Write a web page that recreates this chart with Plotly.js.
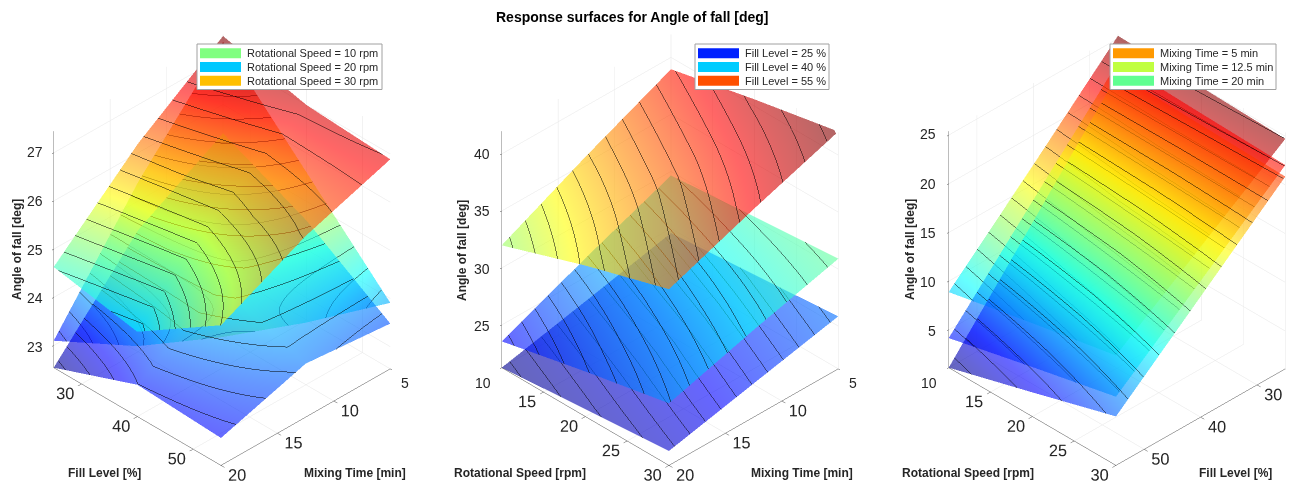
<!DOCTYPE html>
<html>
<head>
<meta charset="utf-8">
<script src="https://cdn.plot.ly/plotly-3.0.1.min.js"></script>
<style>
  html, body { margin: 0; padding: 0; background: #fff; }
  #chart { width: 1296px; height: 496px; }
</style>
</head>
<body>
<div id="chart"></div>
<script>
// grid points of the factors
const fillLevel = [25, 40, 55];
const mixingTime = [5, 12.5, 20];
const rotSpeed = [10, 20, 30];

// panel 1: rows = fill level, cols = mixing time
const angleRs10 = [
  [27.30, 25.40, 23.10],
  [25.60, 25.00, 24.00],
  [23.91, 24.50, 25.20]
];
const angleRs20 = [
  [25.40, 24.40, 22.54],
  [24.60, 24.26, 23.20],
  [23.48, 23.65, 23.11]
];
const angleRs30 = [
  [27.42, 26.20, 24.63],
  [27.00, 25.93, 24.30],
  [26.89, 26.30, 25.45]
];

// panel 2: rows = rotational speed, cols = mixing time
const angleFill25 = [
  [24.59, 22.90, 21.25],
  [25.20, 23.50, 21.90],
  [25.86, 24.20, 22.52]
];
const angleFill40 = [
  [29.64, 26.70, 23.56],
  [30.30, 27.80, 25.20],
  [30.91, 28.90, 26.70]
];
const angleFill55 = [
  [38.96, 35.60, 31.98],
  [40.60, 37.40, 34.50],
  [42.07, 39.50, 36.71]
];

// panel 3: rows = rotational speed, cols = fill level
const angleMix5 = [
  [25.28, 17.00, 8.88],
  [25.00, 18.00, 10.70],
  [24.73, 18.60, 12.40]
];
const angleMix12 = [
  [22.60, 13.40, 4.16],
  [22.30, 14.30, 6.20],
  [22.04, 15.10, 8.17]
];
const angleMix20 = [
  [21.40, 11.20, 1.12],
  [21.10, 12.20, 3.60],
  [20.86, 13.50, 6.15]
];

// axis ticks
const fillTicks = [30, 40, 50];
const mixTicks = [5, 10, 15, 20];
const speedTicks = [10, 15, 20, 25, 30];
const angleTicks1 = [23, 24, 25, 26, 27];
const angleTicks2 = [25, 30, 35, 40];
const angleTicks3 = [5, 10, 15, 20, 25];

const jet = [
  [0, 'rgb(0,0,143)'], [0.111, 'rgb(0,0,255)'], [0.365, 'rgb(0,255,255)'],
  [0.619, 'rgb(255,255,0)'], [0.873, 'rgb(255,0,0)'], [1, 'rgb(128,0,0)']
];

function surf(x, y, z, scene, cmin, cmax) {
  const flat = z.flat();
  const lo = Math.min(...flat), hi = Math.max(...flat);
  const step = (hi - lo) / 15;
  return {
    type: 'surface', x: x, y: y, z: z, scene: scene,
    colorscale: jet, cmin: cmin, cmax: cmax, showscale: false,
    opacity: 0.6,
    lighting: { ambient: 1, diffuse: 0, specular: 0, roughness: 1, fresnel: 0 },
    contours: {
      x: { show: false }, y: { show: false },
      z: { show: true, start: lo + step / 2, end: hi, size: step, color: 'black', width: 1 }
    },
    hoverinfo: 'skip'
  };
}

const traces = [
  surf(mixingTime, fillLevel, angleRs10, 'scene', 22.54, 27.42),
  surf(mixingTime, fillLevel, angleRs20, 'scene', 22.54, 27.42),
  surf(mixingTime, fillLevel, angleRs30, 'scene', 22.54, 27.42),
  surf(mixingTime, rotSpeed, angleFill25, 'scene2', 21.25, 42.07),
  surf(mixingTime, rotSpeed, angleFill40, 'scene2', 21.25, 42.07),
  surf(mixingTime, rotSpeed, angleFill55, 'scene2', 21.25, 42.07),
  surf(fillLevel, rotSpeed, angleMix5, 'scene3', 1.12, 25.28),
  surf(fillLevel, rotSpeed, angleMix12, 'scene3', 1.12, 25.28),
  surf(fillLevel, rotSpeed, angleMix20, 'scene3', 1.12, 25.28)
];

const fontFamily = 'Liberation Sans, Arial, sans-serif';
const tickFont = { family: fontFamily, size: 14, color: '#262626' };
function axis(range, tickvals) {
  return {
    range: range, tickvals: tickvals, title: { text: '' },
    showgrid: true, gridcolor: '#e6e6e6', gridwidth: 1,
    showline: true, linecolor: '#4d4d4d', linewidth: 1,
    ticks: 'outside', ticklen: 5, tickcolor: '#4d4d4d', tickangle: 0,
    showbackground: false, zeroline: false, showspikes: false,
    tickfont: tickFont
  };
}
function scene(dx, xr, xt, yr, yt, zr, zt) {
  return {
    domain: { x: dx, y: [0.015, 0.975] },
    xaxis: axis(xr, xt), yaxis: axis(yr, yt), zaxis: axis(zr, zt),
    aspectmode: 'manual', aspectratio: { x: 1, y: 1, z: 1.217 },
    camera: {
      eye: { x: 1.64, y: 1.66, z: 1.65 }, up: { x: 0, y: 0, z: 1 },
      center: { x: 0, y: 0, z: 0 }, projection: { type: 'orthographic' }
    }
  };
}

const annotations = [];
const shapes = [];
function label(text, x, y, angle) {
  annotations.push({ text: '<b>' + text + '</b>', x: x / 1296, y: 1 - y / 496, xref: 'paper', yref: 'paper',
    showarrow: false, font: { family: fontFamily, size: 12, color: '#262626' },
    textangle: angle || 0, xanchor: 'center', yanchor: 'middle' });
}
label('Angle of fall [deg]', 17, 250, -90);
label('Fill Level [%]', 104, 473);
label('Mixing Time [min]', 355, 473);
label('Angle of fall [deg]', 462, 250, -90);
label('Rotational Speed [rpm]', 520, 473);
label('Mixing Time [min]', 802, 473);
label('Angle of fall [deg]', 910, 250, -90);
label('Rotational Speed [rpm]', 968, 473);
label('Fill Level [%]', 1235, 473);

// tick labels the orthographic scenes leave out: z axis and the far-corner ticks
function tickText(text, x, y, anchor) {
  annotations.push({ text: text, x: x / 1296, y: 1 - y / 496, xref: 'paper', yref: 'paper',
    showarrow: false, xanchor: anchor, yanchor: 'middle', font: tickFont });
}
function zLabels(ticks, zr, xRight) {
  const yBottom = 369.5, yTop = 130.5;
  ticks.forEach(v => {
    tickText(String(v), xRight, yBottom - (v - zr[0]) / (zr[1] - zr[0]) * (yBottom - yTop), 'right');
  });
}
const zRange1 = [22.54, 27.45], zRange2 = [21.25, 42.0], zRange3 = [1.12, 25.4];
zLabels(angleTicks1, zRange1, 45);
zLabels(angleTicks2, zRange2, 492);
zLabels(angleTicks3, zRange3, 938);
tickText(String(mixTicks[0]), 405, 383, 'center');
tickText(String(mixTicks[0]), 853, 383, 'center');
tickText(String(speedTicks[0]), 483, 383, 'center');
tickText(String(speedTicks[0]), 929, 383, 'center');

annotations.push({ text: '<b>Response surfaces for Angle of fall [deg]</b>', x: 632 / 1296, y: 1 - 17 / 496,
  xref: 'paper', yref: 'paper', showarrow: false, xanchor: 'center', yanchor: 'middle',
  font: { family: fontFamily, size: 14, color: '#000' } });

function legend(x0, y0, x1, names, colors) {
  shapes.push({ type: 'rect', xref: 'paper', yref: 'paper', x0: x0 / 1296, x1: x1 / 1296,
    y0: 1 - 89.5 / 496, y1: 1 - y0 / 496, line: { color: '#a0a0a0', width: 1 }, fillcolor: '#fff' });
  names.forEach((n, i) => {
    const cy = 53.3 + i * 13.7;
    shapes.push({ type: 'rect', xref: 'paper', yref: 'paper', x0: (x0 + 3) / 1296, x1: (x0 + 44) / 1296,
      y0: 1 - (cy + 5) / 496, y1: 1 - (cy - 5) / 496, line: { width: 0 }, fillcolor: colors[i] });
    annotations.push({ text: n, x: (x0 + 48) / 1296, y: 1 - cy / 496, xref: 'paper', yref: 'paper',
      showarrow: false, xanchor: 'left', yanchor: 'middle',
      font: { family: fontFamily, size: 11, color: '#262626' } });
  });
}
legend(197, 44, 382, ['Rotational Speed = 10 rpm', 'Rotational Speed = 20 rpm', 'Rotational Speed = 30 rpm'],
  ['#80ff80', '#00c8ff', '#ffbf00']);
legend(695, 44, 829, ['Fill Level = 25 %', 'Fill Level = 40 %', 'Fill Level = 55 %'],
  ['#0020ff', '#00ccff', '#ff5000']);
legend(1110, 44, 1276, ['Mixing Time = 5 min', 'Mixing Time = 12.5 min', 'Mixing Time = 20 min'],
  ['#ff9900', '#c0ff40', '#60ff90']);

const layout = {
  width: 1296, height: 496, margin: { l: 0, r: 0, t: 0, b: 0 },
  paper_bgcolor: '#fff', showlegend: false, hovermode: false,
  scene: scene([0.040, 0.302], [5, 20], mixTicks, [25, 55], fillTicks, zRange1, angleTicks1),
  scene2: scene([0.386, 0.648], [5, 20], mixTicks, [10, 30], speedTicks, zRange2, angleTicks2),
  scene3: scene([0.731, 0.993], [25, 55], fillTicks, [10, 30], speedTicks, zRange3, angleTicks3),
  annotations: annotations, shapes: shapes
};

Plotly.newPlot('chart', traces, layout, { displayModeBar: false });
</script>
</body>
</html>
